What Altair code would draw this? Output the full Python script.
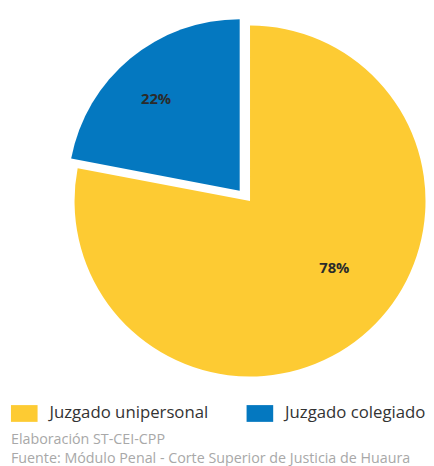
import altair as alt
import pandas as pd

categories = ["Juzgado unipersonal", "Juzgado colegiado"]
values = [78, 22]
labels = ["78%", "22%"]
order_idx = [0, 1]
colors = ["#FDCB33", "#0478C0"]

df = pd.DataFrame({"cat": categories, "value": values, "label": labels, "idx": order_idx})

FONT = "Open Sans"
CX, CY = 242.5, 192.5

base = alt.Chart(df).transform_window(
    cum="sum(value)", sort=[alt.SortField("idx")], frame=[None, 0]
).transform_calculate(
    start="datum.cum - datum.value", mid="datum.cum - datum.value / 2"
)

theta_scale = alt.Scale(domain=[0, 100])
color_enc = alt.Color(
    "cat:N",
    scale=alt.Scale(domain=categories, range=colors),
    sort=categories,
    legend=alt.Legend(
        title=None,
        orient="bottom",
        direction="horizontal",
        symbolType="M-1,-0.63L1,-0.63L1,0.63L-1,0.63Z",
        symbolSize=729,
        symbolStrokeWidth=0,
        labelFont=FONT,
        labelFontSize=17,
        labelColor="#333333",
        labelLimit=400,
        labelOffset=12,
        columnPadding=38,
        offset=12,
        padding=0,
    ),
)

yellow = base.transform_filter("datum.idx == 0").mark_arc(radius=178).encode(
    theta=alt.Theta("start:Q", scale=theta_scale),
    theta2="cum:Q",
    color=color_enc,
    x=alt.value(CX), y=alt.value(CY),
)
blue = base.transform_filter("datum.idx == 1").mark_arc(radius=174, xOffset=-10.5, yOffset=-10.5).encode(
    theta=alt.Theta("start:Q", scale=theta_scale),
    theta2="cum:Q",
    color=color_enc,
    x=alt.value(CX), y=alt.value(CY),
)
text_y = base.transform_filter("datum.idx == 0").mark_text(
    radius=109, font=FONT, fontSize=15, fontWeight="bold", color="#2b2b2b", dx=16, dy=-16
).encode(
    theta=alt.Theta("mid:Q", scale=theta_scale), text="label:N",
    x=alt.value(CX), y=alt.value(CY),
)
text_b = base.transform_filter("datum.idx == 1").mark_text(
    radius=126, font=FONT, fontSize=15, fontWeight="bold", color="#2b2b2b", dx=-15, dy=-6
).encode(
    theta=alt.Theta("mid:Q", scale=theta_scale), text="label:N",
    x=alt.value(CX), y=alt.value(CY),
)

chart = alt.layer(yellow, blue, text_y, text_b).properties(
    width=415, height=382,
    padding={"left": 3, "top": 0, "right": 0, "bottom": 0},
    title=alt.Title(
        ["Elaboración ST-CEI-CPP", "Fuente: Módulo Penal - Corte Superior de Justicia de Huaura"],
        orient="bottom", anchor="start", font=FONT, fontSize=14.5, fontWeight="normal",
        color="#A8A8A8", lineHeight=19, offset=11,
    ),
).configure_view(stroke=None)

chart.save("out.html", embed_options={"renderer": "svg", "actions": False})
